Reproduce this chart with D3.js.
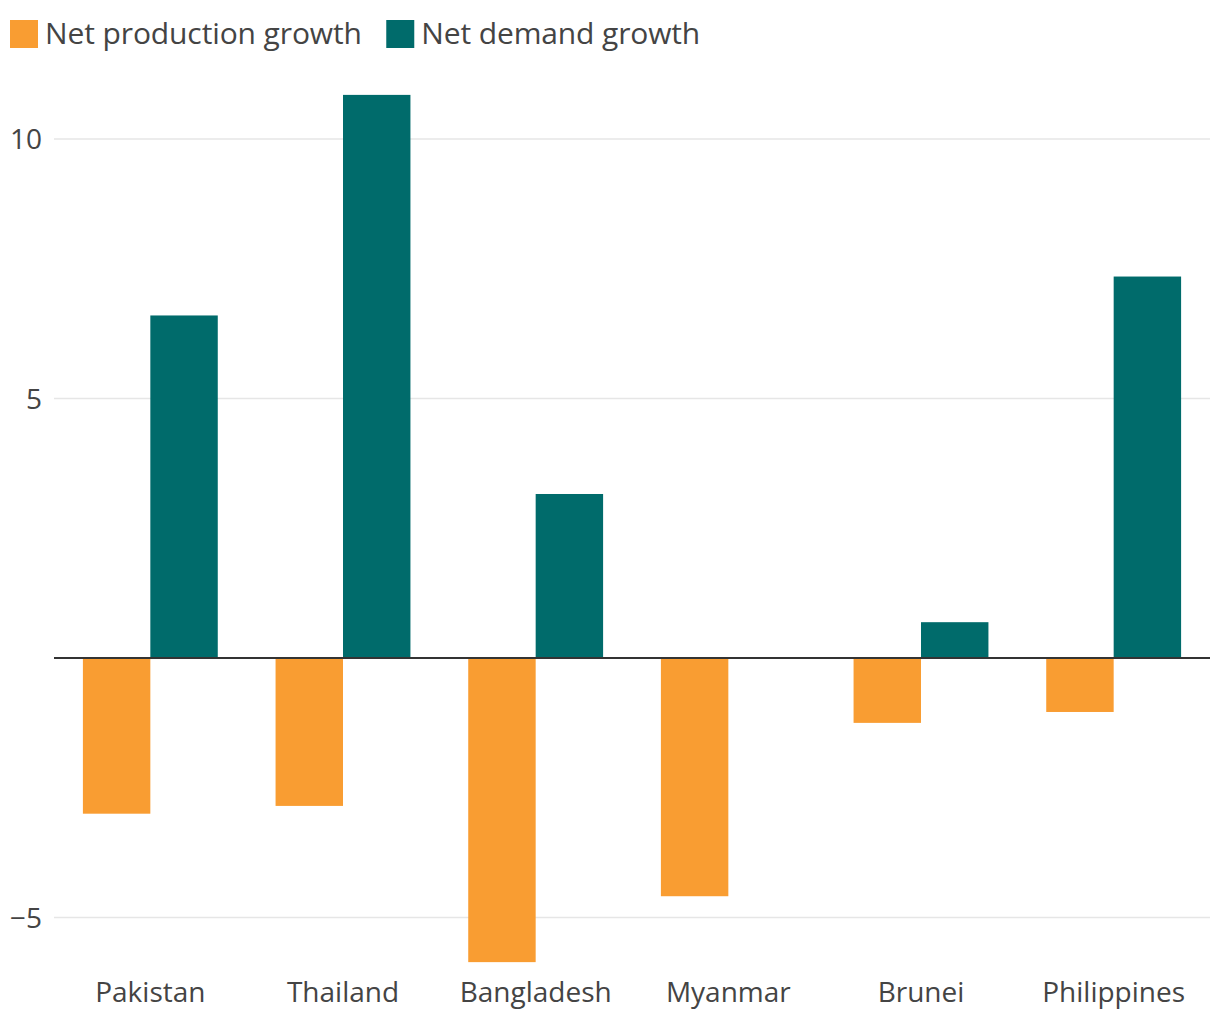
<!DOCTYPE html>
<html><head><meta charset="utf-8">
<script src="https://cdn.jsdelivr.net/npm/d3@7"></script>
<style>
html,body{margin:0;padding:0;background:#fff;}
text{font-family:"Open Sans",sans-serif;}
</style></head>
<body><svg id="c" width="1220" height="1020"></svg>
<script>
const categories = ["Pakistan","Thailand","Bangladesh","Myanmar","Brunei","Philippines"];
const seriesNames = ["Net production growth","Net demand growth"];
const production = [-3.0,-2.85,-5.86,-4.59,-1.25,-1.04];
const demand = [6.6,10.85,3.16,0,0.69,7.35];
const yTicks = [-5,5,10];
const colors = ["#f99d32","#006b6b"];

const svg = d3.select("#c");
const x = d3.scaleBand().domain(categories).range([54,1210]).paddingInner(0.3).paddingOuter(0.15);
const sub = d3.scaleBand().domain(seriesNames).range([0,x.bandwidth()]);
const y = d3.scaleLinear().domain([0,10]).range([658,139]);

// gridlines
svg.append("g").selectAll("line").data(yTicks).join("line")
  .attr("x1",54).attr("x2",1210).attr("y1",d=>y(d)).attr("y2",d=>y(d))
  .attr("stroke","#e6e6e6").attr("stroke-width",1.5);
// y labels
svg.append("g").selectAll("text").data(yTicks).join("text")
  .attr("x",42).attr("y",d=>y(d)).attr("dy","0.36em").attr("text-anchor","end")
  .attr("font-size",28).attr("fill","#444")
  .text(d=>d<0?"\u2212"+Math.abs(d):d);

const data = categories.map((c,i)=>({c, vals:[production[i],demand[i]]}));
const g = svg.append("g");
data.forEach(d=>{
  d.vals.forEach((v,j)=>{
    if(v===0) return;
    g.append("rect")
      .attr("x",x(d.c)+sub(seriesNames[j]))
      .attr("width",sub.bandwidth())
      .attr("y",y(Math.max(0,v)))
      .attr("height",Math.abs(y(v)-y(0)))
      .attr("fill",colors[j]);
  });
});
// zero line
svg.append("line").attr("x1",54).attr("x2",1210).attr("y1",y(0)).attr("y2",y(0))
  .attr("stroke","#333").attr("stroke-width",2);

// x labels
svg.append("g").selectAll("text").data(categories).join("text")
  .attr("x",d=>x(d)+x.bandwidth()/2).attr("y",1002).attr("text-anchor","middle")
  .attr("font-size",28).attr("fill","#444").text(d=>d);

// legend
const leg = svg.append("g");
let lx = 10;
seriesNames.forEach((s,i)=>{
  leg.append("rect").attr("x",lx).attr("y",20).attr("width",28).attr("height",28).attr("fill",colors[i]);
  const t = leg.append("text").attr("x",lx+35).attr("y",44).attr("font-size",30).attr("fill","#444")
    .attr("textLength", i===0 ? 317 : 279).text(s);
  lx += 35 + t.node().getComputedTextLength() + 22;
});
</script></body></html>
